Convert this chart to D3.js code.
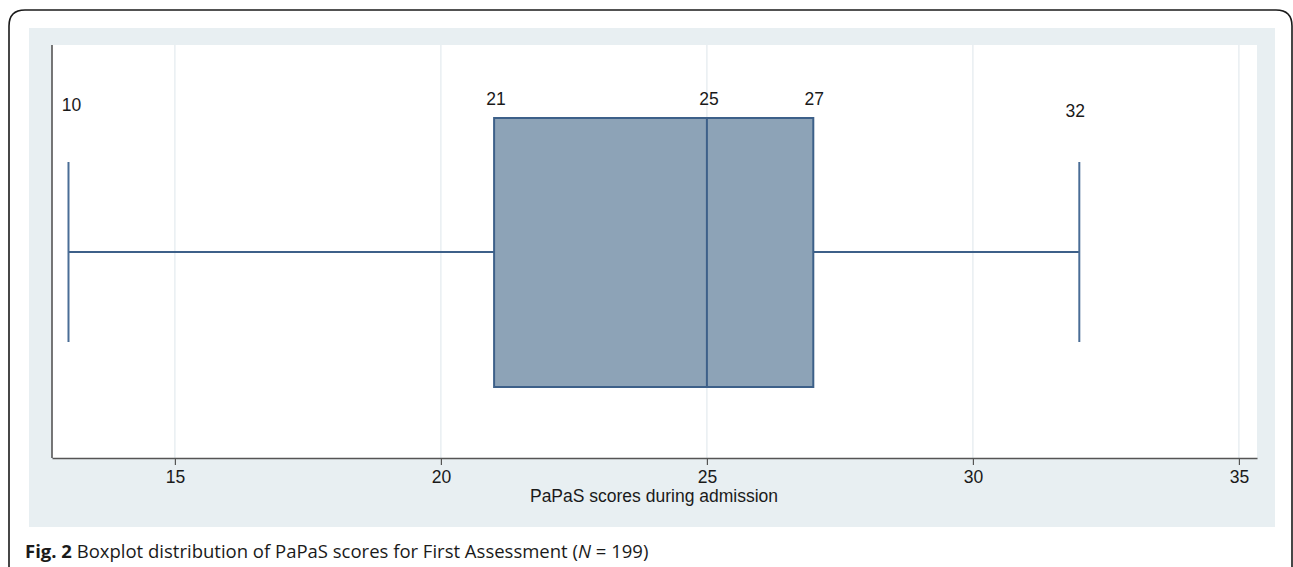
<!DOCTYPE html>
<html>
<head>
<meta charset="utf-8">
<script src="https://cdn.jsdelivr.net/npm/d3@7"></script>
<style>
  html, body { margin: 0; padding: 0; background: #fff; }
  svg { display: block; }
</style>
</head>
<body>
<svg id="chart" width="1293" height="567"></svg>
<script>
// ---- data ----
const stats = ["min", "q1", "median", "q3", "max"];
const statValues = [13, 21, 25, 27, 32];
const statLabels = ["10", "21", "25", "27", "32"];
const xTicks = [15, 20, 25, 30, 35];
const xDomain = [12.69, 35.34];
const xTitle = "PaPaS scores during admission";
const captionBold = "Fig. 2";
const captionText = " Boxplot distribution of PaPaS scores for First Assessment (";
const captionN = "N";
const captionTail = " = 199)";

const svg = d3.select("#chart");
const W = 1293, H = 567;

// outer rounded frame
const r = 16;
svg.append("path")
  .attr("d", `M9,${H+5} L9,${10+r} Q9,10 ${9+r},10 L${1292-r},10 Q1292,10 1292,${10+r} L1292,${H+5}`)
  .attr("fill", "none").attr("stroke", "#1a1a1a").attr("stroke-width", 1.6);

// panel background
svg.append("rect").attr("x", 29).attr("y", 28).attr("width", 1246).attr("height", 499)
  .attr("fill", "#e8eff2");

const plot = { left: 52, right: 1257, top: 45, bottom: 458 };
svg.append("rect").attr("x", plot.left).attr("y", plot.top)
  .attr("width", plot.right - plot.left).attr("height", plot.bottom - plot.top)
  .attr("fill", "#ffffff");

const x = d3.scaleLinear().domain(xDomain).range([plot.left, plot.right]);

// gridlines
svg.append("g").selectAll("line").data(xTicks).join("line")
  .attr("x1", d => x(d)).attr("x2", d => x(d))
  .attr("y1", plot.top).attr("y2", plot.bottom)
  .attr("stroke", "#e3eaee").attr("stroke-width", 1.2);

const v = Object.fromEntries(stats.map((s, i) => [s, statValues[i]]));
const yMid = 252, boxTop = 118, boxBot = 387, capTop = 162, capBot = 342;
const stroke = "#3d6089";

// whisker lines
svg.append("line").attr("x1", x(v.min)).attr("x2", x(v.q1)).attr("y1", yMid).attr("y2", yMid)
  .attr("stroke", stroke).attr("stroke-width", 2);
svg.append("line").attr("x1", x(v.q3)).attr("x2", x(v.max)).attr("y1", yMid).attr("y2", yMid)
  .attr("stroke", stroke).attr("stroke-width", 2);
// caps
svg.append("g").selectAll("line").data([v.min, v.max]).join("line")
  .attr("x1", d => x(d)).attr("x2", d => x(d))
  .attr("y1", capTop).attr("y2", capBot)
  .attr("stroke", "#4a6d96").attr("stroke-width", 2);
// box
svg.append("rect").attr("x", x(v.q1)).attr("y", boxTop)
  .attr("width", x(v.q3) - x(v.q1)).attr("height", boxBot - boxTop)
  .attr("fill", "#8da3b7").attr("stroke", stroke).attr("stroke-width", 2);
svg.append("line").attr("x1", x(v.median)).attr("x2", x(v.median))
  .attr("y1", boxTop).attr("y2", boxBot).attr("stroke", stroke).attr("stroke-width", 2);

// value labels
const labelY = [111, 105, 105, 105, 117];
const labelDx = [3, 2, 2, 1, -4];
svg.append("g").selectAll("text").data(statValues).join("text")
  .attr("x", (d, i) => x(d) + labelDx[i])
  .attr("y", (d, i) => labelY[i])
  .attr("text-anchor", "middle")
  .attr("font-family", "Liberation Sans, Arial, sans-serif")
  .attr("font-size", 17.5).attr("fill", "#1a1a1a")
  .text((d, i) => statLabels[i]);

// x axis
const axis = svg.append("g").attr("transform", `translate(0,${plot.bottom})`)
  .call(d3.axisBottom(x).tickValues(xTicks).tickSize(7).tickSizeOuter(0).tickPadding(6));
axis.select(".domain").attr("stroke", "#555").attr("stroke-width", 1.6);
axis.selectAll(".tick line").attr("stroke", "#555").attr("stroke-width", 1.2);
axis.selectAll(".tick text").attr("font-family", "Liberation Sans, Arial, sans-serif")
  .attr("font-size", 17.5).attr("fill", "#1a1a1a");

// left axis line
svg.append("line").attr("x1", plot.left).attr("x2", plot.left)
  .attr("y1", plot.top).attr("y2", plot.bottom)
  .attr("stroke", "#555").attr("stroke-width", 1.6);

// axis title
svg.append("text").attr("x", 654).attr("y", 502)
  .attr("text-anchor", "middle")
  .attr("font-family", "Liberation Sans, Arial, sans-serif")
  .attr("font-size", 17.5).attr("fill", "#1a1a1a").text(xTitle);

// caption
const cap = svg.append("text").attr("x", 25).attr("y", 558)
  .attr("font-family", "Open Sans, sans-serif").attr("font-size", 18.5).attr("fill", "#1a1a1a");
cap.append("tspan").attr("font-weight", "bold").text(captionBold);
cap.append("tspan").text(captionText);
cap.append("tspan").attr("font-style", "italic").text(captionN);
cap.append("tspan").text(captionTail);
</script>
</body>
</html>
